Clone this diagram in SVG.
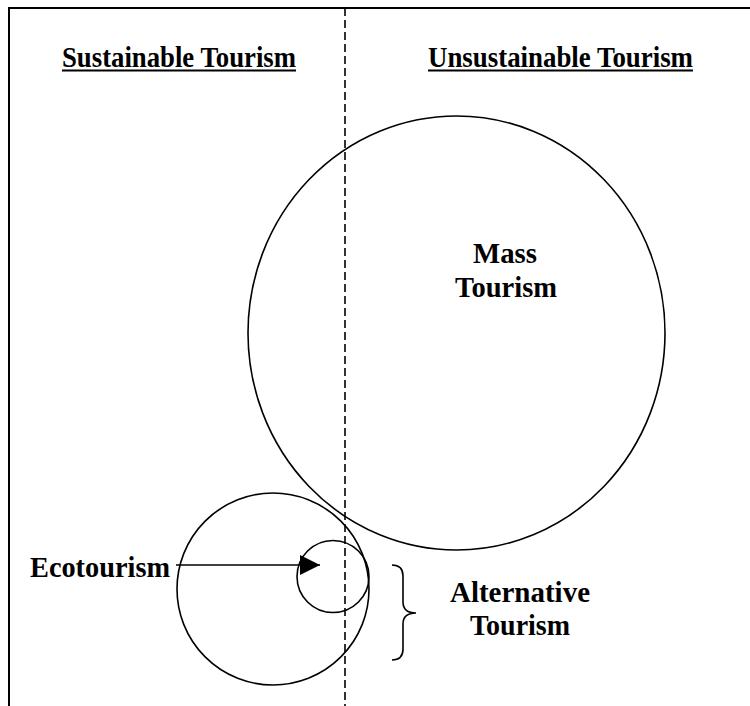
<svg xmlns="http://www.w3.org/2000/svg" width="750" height="706" viewBox="0 0 750 706">
<style>
.lbl{font-family:"Liberation Serif","Times New Roman",serif;font-weight:bold;font-size:29px;fill:#000}
.shape{fill:none;stroke:#000;stroke-width:1.6}
.frame{fill:none;stroke:#000;stroke-width:2}
.ul{stroke:#000;stroke-width:2}
</style>
<defs>
<marker id="arrow" markerWidth="20" markerHeight="20" refX="20" refY="10" orient="auto" markerUnits="userSpaceOnUse">
<path d="M0,0 L20,10 L0,20 Z" fill="#000"/>
</marker>
</defs>
<rect width="750" height="706" fill="#fff"/>
<g id="frame">
<path class="frame" d="M9,706 L9,8 L750,8"/>
<line x1="345" y1="8" x2="345" y2="706" stroke="#000" stroke-width="1.6" stroke-dasharray="8,4"/>
</g>
<g id="heading-sustainable">
<text class="lbl" x="62" y="67" textLength="234" lengthAdjust="spacingAndGlyphs">Sustainable Tourism</text>
<line class="ul" x1="62" y1="70.5" x2="296" y2="70.5"/>
</g>
<g id="heading-unsustainable">
<text class="lbl" x="428" y="67" textLength="265" lengthAdjust="spacingAndGlyphs">Unsustainable Tourism</text>
<line class="ul" x1="428" y1="70.5" x2="693" y2="70.5"/>
</g>
<g id="mass-tourism">
<ellipse class="shape" cx="456.5" cy="333" rx="208.5" ry="217"/>
<text class="lbl" x="473" y="263" textLength="64" lengthAdjust="spacingAndGlyphs">Mass</text>
<text class="lbl" x="455" y="297" textLength="102" lengthAdjust="spacingAndGlyphs">Tourism</text>
</g>
<g id="alternative-tourism">
<circle class="shape" cx="273" cy="589" r="96"/>
<path class="shape" d="M392,565 Q403,565 403,576 L403,602 Q403,613 416,613 Q403,613 403,624 L403,649 Q403,660 392,660"/>
<text class="lbl" x="450" y="602" textLength="140" lengthAdjust="spacingAndGlyphs">Alternative</text>
<text class="lbl" x="470" y="635" textLength="100" lengthAdjust="spacingAndGlyphs">Tourism</text>
</g>
<g id="ecotourism">
<circle class="shape" cx="333" cy="576.5" r="36"/>
<text class="lbl" x="30" y="577" textLength="140" lengthAdjust="spacingAndGlyphs">Ecotourism</text>
</g>
<g id="connectors">
<line x1="176" y1="565" x2="320" y2="565" stroke="#000" stroke-width="1.6" marker-end="url(#arrow)"/>
</g>
</svg>
